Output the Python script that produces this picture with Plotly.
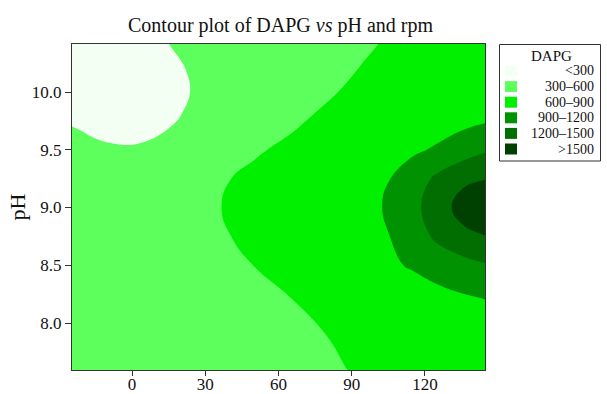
import plotly.graph_objects as go

# ---- data ----
rpm = [-40, -25, -10, 5, 20, 35, 50, 65, 80, 95, 105, 115, 125, 135, 145, 160]
ph = [7.35, 7.59, 7.9, 8.2, 8.5, 8.75, 9.0, 9.25, 9.5, 9.75, 10.0, 10.2, 10.42, 10.65]

dapg_735 = [430, 440, 460, 480, 500, 520, 540, 560, 575, 598, 625, 650, 675, 700, 725, 750]
dapg_759 = [440, 450, 470, 490, 510, 530, 550, 570, 585, 612, 650, 680, 705, 730, 760, 790]
dapg_790 = [450, 460, 478, 496, 514, 532, 552, 572, 601, 650, 680, 710, 740, 775, 810, 850]
dapg_820 = [460, 470, 490, 510, 530, 550, 570, 597, 640, 690, 725, 765, 810, 855, 900, 950]
dapg_850 = [470, 480, 500, 520, 545, 570, 601, 650, 710, 790, 860, 925, 1010, 1090, 1180, 1290]
dapg_875 = [480, 490, 510, 530, 555, 585, 625, 680, 750, 830, 895, 1030, 1260, 1420, 1495, 1600]
dapg_900 = [490, 500, 520, 540, 565, 595, 640, 700, 770, 840, 920, 1120, 1350, 1600, 1720, 1850]
dapg_925 = [480, 490, 510, 530, 555, 585, 625, 680, 750, 830, 895, 1030, 1260, 1440, 1495, 1600]
dapg_950 = [370, 345, 310, 315, 380, 450, 586, 625, 700, 760, 810, 860, 930, 1040, 1170, 1290]
dapg_975 = [310, 290, 270, 260, 305, 390, 470, 580, 628, 700, 730, 760, 790, 830, 880, 940]
dapg_1000 = [260, 240, 225, 235, 280, 360, 440, 510, 585, 636, 690, 730, 770, 810, 850, 900]
dapg_1020 = [240, 225, 210, 220, 290, 370, 440, 500, 560, 608, 645, 690, 725, 760, 800, 840]
dapg_1042 = [240, 230, 215, 260, 320, 380, 440, 490, 535, 582, 612, 655, 695, 730, 760, 790]
dapg_1065 = [250, 240, 225, 285, 340, 390, 440, 480, 520, 565, 592, 625, 665, 700, 730, 760]

dapg = [dapg_735, dapg_759, dapg_790, dapg_820, dapg_850, dapg_875, dapg_900,
        dapg_925, dapg_950, dapg_975, dapg_1000, dapg_1020, dapg_1042, dapg_1065]

levels_start, levels_end, levels_step = 300, 1500, 300
legend_labels = ["&lt;300", "300–600", "600–900", "900–1200", "1200–1500", "&gt;1500"]
x_ticks = [0, 30, 60, 90, 120]
y_ticks = [8.0, 8.5, 9.0, 9.5, 10.0]

# ---- styles ----
band_colors = ["#f3fff3", "#5dff5d", "#00f000", "#009200", "#006e00", "#004000"]
FONT = "Liberation Serif, Times New Roman, serif"

# stepped colorscale: band centres fall at 0, .2, .4, .6, .8, 1
cs = []
n = len(band_colors)
for i, c in enumerate(band_colors):
    lo = max(0.0, (i - 0.5) / (n - 1))
    hi = min(1.0, (i + 0.5) / (n - 1))
    cs.append([lo, c])
    cs.append([hi, c])

fig = go.Figure()
fig.add_trace(go.Contour(
    x=rpm, y=ph, z=dapg,
    autocontour=False,
    contours=dict(start=levels_start, end=levels_end, size=levels_step, coloring="fill"),
    colorscale=cs,
    line=dict(width=0, smoothing=1.3),
    showscale=False,
    hoverinfo="skip",
))

W, H = 607, 394
L, R, T, B = 72, 122, 44, 24
pw, ph_ = W - L - R, H - T - B

def px2x(px):
    return (px - L) / pw

def py2y(py):
    return (H - B - py) / ph_

shapes = []
annotations = []
# legend box
shapes.append(dict(type="rect", xref="paper", yref="paper",
                   x0=px2x(499.5), x1=px2x(600.5), y0=py2y(161), y1=py2y(44.5),
                   line=dict(color="#333333", width=1), fillcolor="white"))
annotations.append(dict(text="DAPG", xref="paper", yref="paper",
                        x=px2x(551.5), y=py2y(55.5), xanchor="center", yanchor="middle",
                        showarrow=False, font=dict(family=FONT, size=15, color="#111111")))
for i, (lab, col) in enumerate(zip(legend_labels, band_colors)):
    cy = 71 + 15.6 * i
    shapes.append(dict(type="rect", xref="paper", yref="paper",
                       x0=px2x(505), x1=px2x(517), y0=py2y(cy + 5.5), y1=py2y(cy - 5.5),
                       line=dict(width=0), fillcolor=col))
    annotations.append(dict(text=lab, xref="paper", yref="paper",
                            x=px2x(595.5), y=py2y(cy), xanchor="right", yanchor="middle",
                            showarrow=False, font=dict(family=FONT, size=14, color="#111111")))

fig.update_layout(
    width=W, height=H,
    margin=dict(l=L, r=R, t=T, b=B, pad=0, autoexpand=False),
    paper_bgcolor="white", plot_bgcolor="white",
    font=dict(family=FONT, size=17, color="#111111"),
    title=dict(text="Contour plot of DAPG <i>vs</i> pH and rpm",
               x=px2x(280.5), xref="paper", xanchor="center",
               y=1 - 25 / H, yref="container", yanchor="middle",
               font=dict(family=FONT, size=20, color="#111111")),
    xaxis=dict(range=[-24.6, 144.6], tickvals=x_ticks, ticks="outside", ticklen=5,
               tickcolor="#333333", showline=True, linecolor="#333333", linewidth=1,
               mirror=True, showgrid=False, zeroline=False, automargin=False,
               ticklabelstandoff=-6,
               tickfont=dict(family=FONT, size=17, color="#111111")),
    yaxis=dict(range=[7.593, 10.416], tickvals=y_ticks, tickformat=".1f",
               ticks="outside", ticklen=6, tickcolor="#333333", showline=True,
               linecolor="#333333", linewidth=1, mirror=True, showgrid=False,
               zeroline=False, automargin=False,
               tickfont=dict(family=FONT, size=17, color="#111111"),
               title=dict(text="pH", standoff=0,
                          font=dict(family=FONT, size=22, color="#111111"))),
    shapes=shapes,
    annotations=annotations,
    showlegend=False,
)

fig.write_html("out.html")
